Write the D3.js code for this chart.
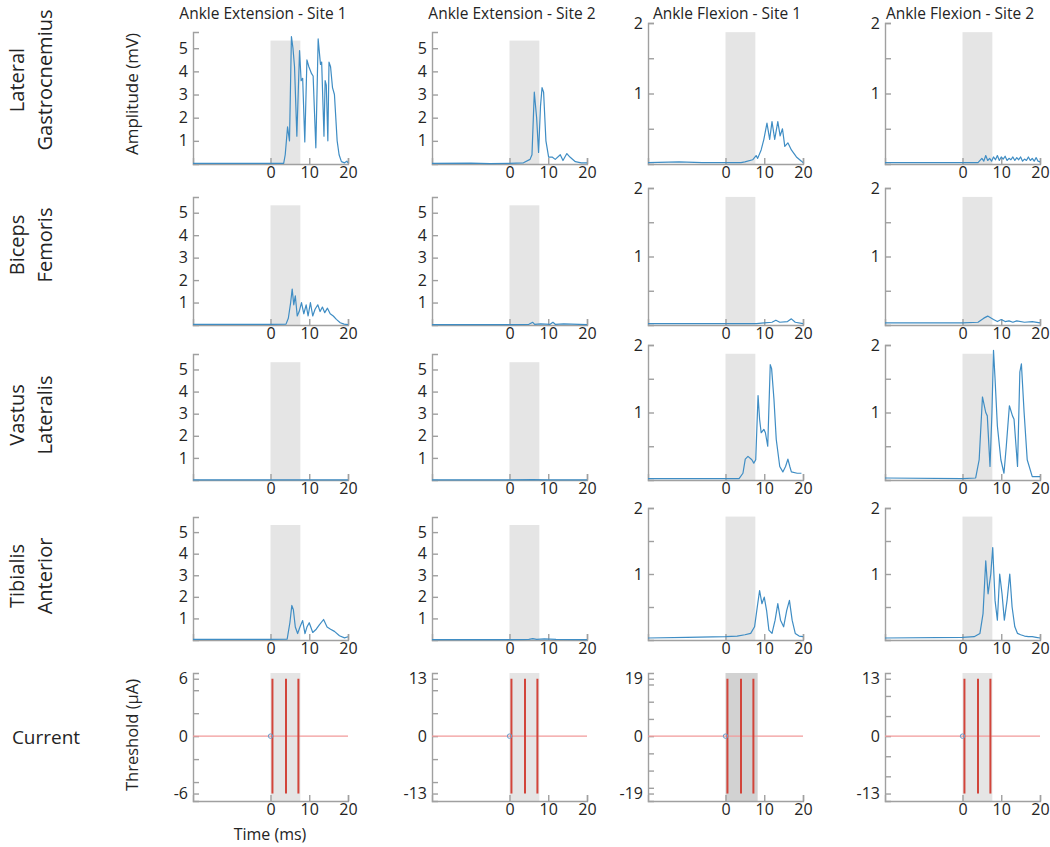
<!DOCTYPE html>
<html>
<head>
<meta charset="utf-8">
<script src="https://cdn.jsdelivr.net/npm/d3@7"></script>
<style>
  body { margin: 0; background: #fff; }
  svg text { font-family: "Open Sans", "Noto Sans", sans-serif; fill: #242424; }
  .axis path, .axis line { stroke: #a0a0a0; stroke-width: 1.4; }
  .axis text { font-size: 16px; }
</style>
</head>
<body>
<div id="chart"></div>
<script>
/* ---------- Data ---------- */
const conditions = ["Ankle Extension - Site 1", "Ankle Extension - Site 2",
                    "Ankle Flexion - Site 1", "Ankle Flexion - Site 2"];
const muscles = [["Lateral", "Gastrocnemius"], ["Biceps", "Femoris"],
                 ["Vastus", "Lateralis"], ["Tibialis", "Anterior"]];
const timeDomain = [-20, 20];
const timeTicks = [0, 10, 20];
const ampMax = [5.7, 5.7, 2, 2];          // mV, per column
const extTicks = [1, 2, 3, 4, 5];
const flexTicks = [0.5, 1, 1.5, 2];
const flexLabels = [1, 2];
const stimWindow = [0, 7.7];               // ms
const pulseTimes = [0.5, 4.0, 7.2];        // ms
const thresholds = [6, 13, 19, 13];        // uA, per column
const thresholdMinor = [[-0.8, -0.4, 0.4, 0.8], [-0.8, -0.4, 0.4, 0.8],
                        [-0.9, -0.6, -0.3, 0.3, 0.6, 0.9], [-0.7, -0.35, 0.35, 0.7]];

// EMG traces [time ms, amplitude mV]
const lgExt1 = [[-20,0.03],[-10,0.03],[0,0.03],[3.4,0.03],[3.8,0.4],[4.4,1.6],[4.9,1.0],[5.4,5.5],[5.8,5.0],[6.2,4.2],[6.8,1.2],[7.5,4.9],[7.9,3.6],[8.3,3.7],[8.85,0.95],[9.4,4.5],[9.9,4.2],[10.6,3.9],[11.0,3.8],[11.7,0.7],[12.3,5.4],[12.9,4.3],[13.2,4.4],[13.8,1.2],[14.1,3.6],[14.4,3.4],[14.8,1.0],[15.1,4.4],[15.5,4.2],[16.0,3.3],[16.5,3.0],[17.2,1.0],[17.7,0.4],[18.3,0.1],[19.1,0.05],[19.7,0.12],[20,0.05]];
const lgExt2 = [[-20,0.03],[-10,0.04],[-5,0.02],[0,0.03],[3.6,0.05],[5.3,0.2],[5.8,0.4],[6.4,3.1],[7.0,2.0],[7.5,0.5],[8.0,2.5],[8.4,3.3],[8.8,3.1],[9.4,1.0],[10.1,0.3],[11,0.3],[11.8,0.2],[13.1,0.4],[13.8,0.15],[14.8,0.45],[15.6,0.3],[17,0.1],[18.5,0.05],[20,0.05]];
const lgFlex1 = [[-20,0.02],[-12,0.03],[-6,0.02],[0,0.02],[4,0.02],[5,0.03],[7,0.06],[7.9,0.12],[8.3,0.08],[9.2,0.2],[9.9,0.35],[10.7,0.58],[11.4,0.35],[12,0.6],[12.7,0.35],[13.5,0.6],[14.1,0.4],[14.7,0.5],[15.3,0.25],[16.1,0.3],[17,0.2],[18.3,0.1],[19.6,0.04],[20,0.02]];
const lgFlex2 = [[-20,0.02],[0,0.02],[4,0.02],[5,0.08],[5.5,0.04],[6,0.12],[6.5,0.05],[7,0.08],[7.5,0.04],[8,0.1],[8.5,0.06],[9,0.12],[9.5,0.05],[10,0.1],[10.5,0.07],[11,0.11],[11.5,0.05],[12,0.08],[12.5,0.06],[13,0.1],[13.5,0.05],[14,0.09],[14.5,0.06],[15,0.1],[15.5,0.04],[16,0.07],[16.5,0.05],[17,0.1],[17.5,0.05],[18,0.08],[18.5,0.04],[19,0.09],[19.5,0.04],[20,0.03]];
const bfExt1 = [[-20,0.03],[0,0.03],[4,0.04],[4.6,0.3],[5.2,1.0],[5.6,1.6],[6.0,0.9],[6.4,1.3],[6.9,0.4],[7.4,0.6],[8.0,1.0],[8.6,0.5],[9.2,0.9],[9.7,0.4],[10.3,1.0],[10.9,0.4],[11.5,0.7],[12.2,0.9],[12.8,0.6],[13.4,0.8],[14,0.55],[14.7,0.75],[15.4,0.5],[16.2,0.4],[17,0.25],[18,0.1],[19,0.04],[20,0.02]];
const bfExt2 = [[-20,0.02],[0,0.02],[5,0.03],[6,0.12],[6.5,0.03],[8,0.05],[10.5,0.03],[11.2,0.12],[11.8,0.03],[14,0.05],[20,0.02]];
const bfFlex1 = [[-20,0.02],[0,0.02],[8,0.02],[10,0.03],[12,0.04],[13,0.07],[14,0.04],[16,0.05],[17,0.09],[18,0.04],[20,0.02]];
const bfFlex2 = [[-20,0.03],[0,0.03],[4,0.04],[5.5,0.1],[6.5,0.13],[8,0.08],[9,0.05],[10,0.08],[11,0.05],[12,0.06],[13,0.04],[14,0.06],[16,0.04],[18,0.05],[20,0.03]];
const vlExt1 = [[-20,0.01],[0,0.01],[10,0.01],[20,0.01]];
const vlExt2 = [[-20,0.01],[0,0.01],[6,0.02],[10,0.01],[20,0.01]];
const vlFlex1 = [[-20,0.02],[0,0.02],[3.5,0.02],[4.5,0.1],[5.1,0.31],[5.8,0.35],[6.8,0.3],[7.3,0.25],[7.8,0.3],[8.4,1.25],[8.8,0.9],[9.2,0.7],[9.9,0.75],[10.3,0.7],[10.9,0.5],[11.55,1.71],[11.9,1.65],[12.5,1.2],[13.1,0.6],[14,0.2],[14.8,0.12],[15.5,0.2],[16.1,0.31],[16.6,0.2],[17,0.12],[18.5,0.1],[19.6,0.1]];
const vlFlex2 = [[-20,0.03],[0,0.02],[3.4,0.03],[4.3,0.3],[5.15,1.23],[6,1.0],[6.4,0.95],[7.1,0.2],[7.6,1.0],[8.0,1.92],[8.4,1.5],[9,0.8],[9.9,0.3],[10.7,0.1],[11.3,0.5],[12.1,1.1],[12.9,0.95],[13.3,0.9],[14.2,0.2],[14.8,1.6],[15.2,1.72],[15.9,1.0],[16.7,0.3],[18,0.05],[20,0.05]];
const taExt1 = [[-20,0.03],[0,0.03],[4.3,0.04],[5.0,0.8],[5.5,1.6],[5.9,1.4],[6.4,0.6],[7,0.3],[7.6,0.6],[8.3,0.9],[8.9,0.3],[9.4,0.6],[10,0.8],[10.9,0.35],[11.8,0.5],[12.6,0.7],[13.7,0.95],[14.6,0.6],[15.5,0.5],[16.5,0.4],[17.8,0.2],[19.1,0.1],[20,0.15]];
const taExt2 = [[-20,0.02],[0,0.02],[5,0.03],[6,0.06],[7,0.03],[9,0.05],[12,0.03],[20,0.02]];
const taFlex1 = [[-20,0.03],[-10,0.04],[0,0.05],[3,0.06],[5,0.08],[6.5,0.1],[7.5,0.2],[8.2,0.5],[8.8,0.75],[9.4,0.55],[10,0.65],[10.6,0.45],[11.2,0.15],[12,0.1],[12.8,0.3],[13.5,0.55],[14.2,0.3],[15,0.2],[15.8,0.45],[16.5,0.6],[17.2,0.3],[18,0.1],[19,0.06],[20,0.05]];
const taFlex2 = [[-20,0.03],[0,0.04],[3,0.05],[4.5,0.1],[5.3,0.4],[6.0,1.2],[6.6,0.7],[7.3,1.0],[7.8,1.4],[8.4,0.6],[9.0,0.3],[9.6,1.0],[10.2,0.7],[10.8,0.3],[11.5,0.6],[12.2,1.0],[12.8,0.5],[13.5,0.2],[14.2,0.1],[15,0.08],[16,0.06],[17,0.05],[18,0.05],[19,0.04],[20,0.03]];

const traces = [
  [lgExt1, lgExt2, lgFlex1, lgFlex2],
  [bfExt1, bfExt2, bfFlex1, bfFlex2],
  [vlExt1, vlExt2, vlFlex1, vlFlex2],
  [taExt1, taExt2, taFlex1, taFlex2]
];

/* ---------- Layout ---------- */
const W = 1050, H = 847;
const colLeft = [193, 432, 648, 885];
const titleMid = [263, 512, 727, 960];
const panelW = 155;
const rowBottom = [164, 325, 480, 640];
const rowTop = [32, 197, 354, 517];
const labelMid = [80, 245, 415, 576];
const flexLift = 9;
const curTop = 673, curBottom = 801;

const blue = "#3f8dc4";
const svg = d3.select("#chart").append("svg")
  .attr("width", W).attr("height", H);

const x = d3.scaleLinear().domain(timeDomain).range([0, panelW]);
const line = d3.line().x(d => x(d[0])).y(d => d[1]);

// column titles
svg.selectAll("text.title")
  .data(conditions)
  .join("text")
    .attr("class", "title")
    .attr("x", (d, i) => titleMid[i])
    .attr("y", 19)
    .attr("text-anchor", "middle")
    .style("font-size", "15.5px")
    .text(d => d);

// row labels
muscles.forEach((m, r) => {
  const t = svg.append("text")
    .attr("transform", `translate(30,${labelMid[r]}) rotate(-90)`)
    .attr("text-anchor", "middle")
    .style("font-size", "20px");
  t.append("tspan").attr("x", 0).attr("dy", "-0.3em").text(m[0]);
  t.append("tspan").attr("x", 0).attr("dy", "1.4em").text(m[1]);
});
svg.append("text")
  .attr("x", 46).attr("y", 744)
  .attr("text-anchor", "middle")
  .style("font-size", "19px")
  .text("Current");

// axis titles
svg.append("text")
  .attr("transform", "translate(138,94) rotate(-90)")
  .attr("text-anchor", "middle")
  .style("font-size", "17px")
  .text("Amplitude (mV)");
svg.append("text")
  .attr("transform", "translate(138,735) rotate(-90)")
  .attr("text-anchor", "middle")
  .style("font-size", "16.5px")
  .text("Threshold (\u00b5A)");
svg.append("text")
  .attr("x", 270).attr("y", 840)
  .attr("text-anchor", "middle")
  .style("font-size", "16px")
  .text("Time (ms)");

/* ---------- EMG panels ---------- */
traces.forEach((row, r) => {
  row.forEach((data, c) => {
    const isFlex = c >= 2;
    const top = isFlex ? rowTop[r] - flexLift : rowTop[r];
    const y = d3.scaleLinear().domain([0, ampMax[c]]).range([rowBottom[r], top]);
    const g = svg.append("g").attr("transform", `translate(${colLeft[c]},0)`);

    g.append("rect")
      .attr("x", x(stimWindow[0]))
      .attr("width", x(stimWindow[1]) - x(stimWindow[0]))
      .attr("y", y(ampMax[c] * 0.935))
      .attr("height", y(0) - y(ampMax[c] * 0.935))
      .attr("fill", "#e5e5e5");

    const yAxis = d3.axisLeft(y)
      .tickValues(isFlex ? flexTicks : extTicks)
      .tickSize(-6).tickPadding(5)
      .tickFormat(v => (isFlex ? (flexLabels.includes(v) ? v : "") : v));
    g.append("g").attr("class", "axis").call(yAxis);

    const xAxis = d3.axisBottom(x).tickValues(timeTicks).tickSize(-6).tickPadding(3);
    g.append("g").attr("class", "axis")
      .attr("transform", `translate(0,${rowBottom[r]})`)
      .call(xAxis);

    g.append("path")
      .datum(data.map(d => [d[0], y(d[1])]))
      .attr("fill", "none")
      .attr("stroke", blue)
      .attr("stroke-width", 1.2)
      .attr("stroke-linejoin", "round")
      .attr("d", line);
  });
});

/* ---------- Current panels ---------- */
thresholds.forEach((amp, c) => {
  const y = d3.scaleLinear().domain([-amp * 1.13, amp * 1.1]).range([curBottom, curTop]);
  const g = svg.append("g").attr("transform", `translate(${colLeft[c]},0)`);

  g.append("rect")
    .attr("x", x(stimWindow[0]))
    .attr("width", x(stimWindow[1] + (c === 2 ? 0.6 : 0)) - x(stimWindow[0]))
    .attr("y", curTop)
    .attr("height", curBottom - curTop)
    .attr("fill", c === 2 ? "#d2d2d2" : "#e5e5e5");

  const yAxis = d3.axisLeft(y)
    .tickValues([-amp, ...thresholdMinor[c].map(f => f * amp), 0, amp])
    .tickSize(-6).tickPadding(5)
    .tickFormat(v => (v === amp || v === -amp || v === 0) ? String(v) : "");
  g.append("g").attr("class", "axis").call(yAxis);

  g.append("g").attr("class", "axis")
    .attr("transform", `translate(0,${curBottom})`)
    .call(d3.axisBottom(x).tickValues(timeTicks).tickSize(-6).tickPadding(3));

  g.append("line")
    .attr("x1", x(timeDomain[0])).attr("x2", x(timeDomain[1]))
    .attr("y1", y(0)).attr("y2", y(0))
    .attr("stroke", "#f29a9a").attr("stroke-width", 1.3);

  g.selectAll("line.pulse")
    .data(pulseTimes)
    .join("line")
      .attr("class", "pulse")
      .attr("x1", d => x(d)).attr("x2", d => x(d))
      .attr("y1", y(amp)).attr("y2", y(-amp))
      .attr("stroke", "#d2453b").attr("stroke-width", 2);

  g.append("circle")
    .attr("cx", x(0)).attr("cy", y(0)).attr("r", 2.2)
    .attr("fill", "none").attr("stroke", "#6a9bc9").attr("stroke-width", 1);
});
</script>
</body>
</html>
